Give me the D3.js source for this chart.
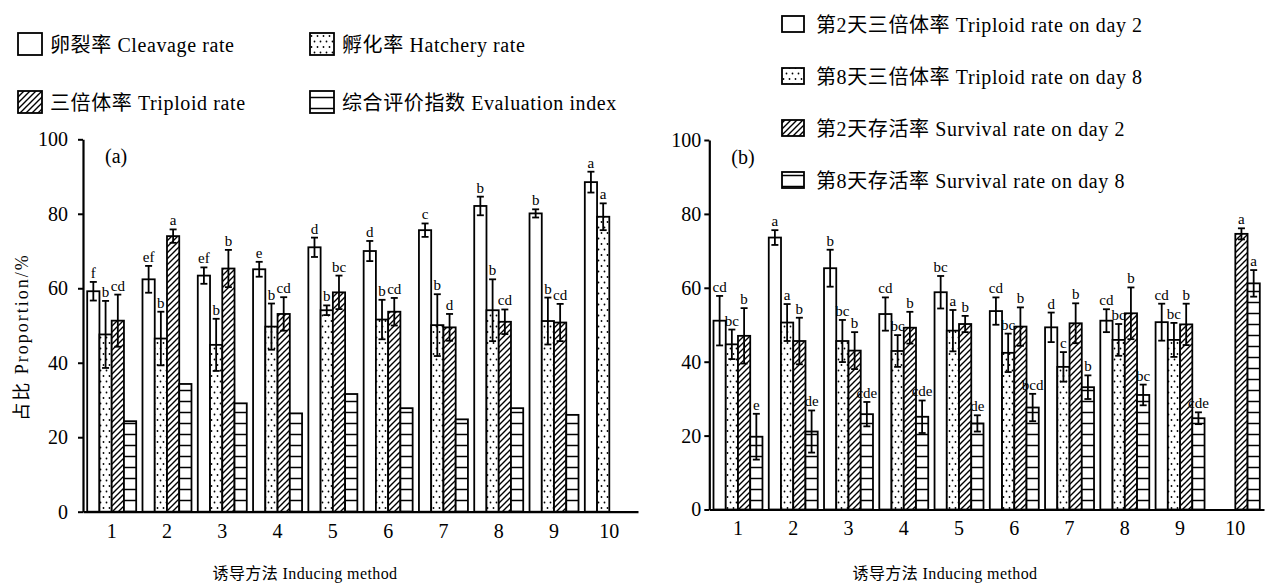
<!DOCTYPE html>
<html>
<head>
<meta charset="utf-8">
<script src="https://cdn.jsdelivr.net/npm/d3@7"></script>
<style>
    body { margin: 0; background: #fff; }
    text { font-family: "Liberation Serif", "Noto Sans CJK SC", serif; fill: #000; }
</style>
</head>
<body>
<div id="chart"></div>
<script>
    // categories (inducing method)
    var categories = ["1", "2", "3", "4", "5", "6", "7", "8", "9", "10"];
    var yTicks = [0, 20, 40, 60, 80, 100];

    // panel (a)
    var cleavage    = [59.2, 62.4, 63.4, 65.1, 71.0, 70.0, 75.6, 82.1, 80.1, 88.5];
    var cleavageErr = [2.5, 3.6, 2.2, 2.0, 2.6, 2.7, 1.8, 2.5, 1.1, 2.8];
    var cleavageSig = ["f", "ef", "ef", "e", "d", "d", "c", "b", "b", "a"];
    var hatchery    = [47.6, 46.5, 44.8, 49.7, 54.1, 51.6, 50.1, 54.1, 51.2, 79.2];
    var hatcheryErr = [9.0, 7.2, 7.0, 6.2, 1.3, 5.3, 8.3, 8.3, 6.3, 3.6];
    var hatcherySig = ["b", "b", "b", "b", "b", "b", "b", "b", "b", "a"];
    var triploid    = [51.3, 74.0, 65.3, 53.1, 58.9, 53.7, 49.5, 51.0, 50.8, null];
    var triploidErr = [7.0, 1.8, 5.0, 4.5, 4.5, 3.7, 3.6, 3.3, 5.0, null];
    var triploidSig = ["cd", "a", "b", "cd", "bc", "cd", "d", "cd", "cd", null];
    var evaluation  = [24.3, 34.3, 29.1, 26.4, 31.6, 27.8, 24.8, 27.8, 26.0, null];

    // panel (b)
    var tri2    = [51.1, 73.6, 65.3, 52.9, 58.8, 53.7, 49.3, 51.1, 50.7, null];
    var tri2Err = [6.7, 2.0, 5.0, 4.5, 4.4, 3.7, 4.0, 3.1, 5.0, null];
    var tri2Sig = ["cd", "a", "b", "cd", "bc", "cd", "d", "cd", "cd", null];
    var tri8    = [44.7, 50.6, 45.6, 42.9, 48.4, 42.4, 38.6, 45.9, 45.9, null];
    var tri8Err = [4.0, 5.0, 5.7, 4.3, 5.6, 5.2, 4.0, 4.3, 4.6, null];
    var tri8Sig = ["bc", "a", "bc", "bc", "a", "bc", "c", "bc", "bc", null];
    var surv2    = [47.0, 45.6, 43.0, 49.2, 50.2, 49.5, 50.4, 53.1, 50.1, 74.6];
    var surv2Err = [7.5, 6.3, 5.0, 4.3, 2.2, 5.2, 5.4, 7.0, 5.6, 1.5];
    var surv2Sig = ["b", "b", "b", "b", "b", "b", "b", "b", "b", "a"];
    var surv8    = [19.7, 21.1, 25.8, 25.1, 23.3, 27.6, 33.1, 31.0, 24.7, 61.2];
    var surv8Err = [6.2, 5.7, 3.3, 4.4, 2.2, 3.7, 3.2, 2.8, 1.6, 3.6];
    var surv8Sig = ["e", "de", "cde", "cde", "de", "bcd", "b", "bc", "cde", "a"];

    var w = 1266;
    var h = 586;

    var svg = d3.select("#chart")
        .append("svg")
        .attr("width", w)
        .attr("height", h);

    // fill patterns
    var defs = svg.append("defs");

    var dots = defs.append("pattern")
        .attr("id", "dots")
        .attr("patternUnits", "userSpaceOnUse")
        .attr("width", 6)
        .attr("height", 11);
    dots.append("rect").attr("width", 6).attr("height", 11).attr("fill", "#fff");
    dots.append("circle").attr("cx", 1.5).attr("cy", 2).attr("r", 0.9).attr("fill", "#000");
    dots.append("circle").attr("cx", 4.5).attr("cy", 7.5).attr("r", 0.9).attr("fill", "#000");

    var hatch = defs.append("pattern")
        .attr("id", "hatch")
        .attr("patternUnits", "userSpaceOnUse")
        .attr("width", 6)
        .attr("height", 6);
    hatch.append("rect").attr("width", 6).attr("height", 6).attr("fill", "#fff");
    hatch.append("path")
        .attr("d", "M0,6 L6,0 M-1.5,1.5 L1.5,-1.5 M4.5,7.5 L7.5,4.5")
        .attr("stroke", "#000")
        .attr("stroke-width", 1.4);

    var hlines = defs.append("pattern")
        .attr("id", "hlines")
        .attr("patternUnits", "userSpaceOnUse")
        .attr("width", 12)
        .attr("height", 11);
    hlines.append("rect").attr("width", 12).attr("height", 11).attr("fill", "#fff");
    hlines.append("line")
        .attr("x1", 0).attr("x2", 12)
        .attr("y1", 5.5).attr("y2", 5.5)
        .attr("stroke", "#000")
        .attr("stroke-width", 1.5);

    var fills = ["#fff", "url(#dots)", "url(#hatch)", "url(#hlines)"];

    function drawPanel(cfg) {
        var x = d3.scaleBand()
            .domain(categories)
            .range([cfg.x0, cfg.x1])
            .paddingInner(0.114)
            .paddingOuter(0.076);

        var xInner = d3.scaleBand()
            .domain([0, 1, 2, 3])
            .range([0, x.bandwidth()]);

        var y = d3.scaleLinear()
            .domain([0, 100])
            .range([cfg.yBottom, cfg.yTop]);

        var g = svg.append("g");

        // bars
        cfg.series.forEach(function(s, si) {
            var rows = categories.map(function(c, i) {
                return { cat: c, v: s.values[i], e: s.err ? s.err[i] : null, sig: s.sig ? s.sig[i] : null };
            }).filter(function(d) { return d.v != null; });

            var bx = function(d) { return x(d.cat) + xInner(si); };
            var cx = function(d) { return bx(d) + xInner.bandwidth() / 2; };

            g.selectAll(".bar" + si)
                .data(rows)
                .enter()
                .append("rect")
                .attr("x", bx)
                .attr("y", function(d) { return y(d.v); })
                .attr("width", xInner.bandwidth())
                .attr("height", function(d) { return y(0) - y(d.v); })
                .attr("fill", fills[si])
                .attr("stroke", "#000")
                .attr("stroke-width", 1.8);

            if (!s.err) return;

            var eb = g.selectAll(".err" + si)
                .data(rows)
                .enter()
                .append("g")
                .attr("stroke", "#000")
                .attr("stroke-width", 1.8);
            eb.append("line")
                .attr("x1", cx).attr("x2", cx)
                .attr("y1", function(d) { return y(d.v - d.e); })
                .attr("y2", function(d) { return y(d.v + d.e); });
            eb.append("line")
                .attr("x1", function(d) { return cx(d) - 3.5; })
                .attr("x2", function(d) { return cx(d) + 3.5; })
                .attr("y1", function(d) { return y(d.v + d.e); })
                .attr("y2", function(d) { return y(d.v + d.e); });
            eb.append("line")
                .attr("x1", function(d) { return cx(d) - 3.5; })
                .attr("x2", function(d) { return cx(d) + 3.5; })
                .attr("y1", function(d) { return y(d.v - d.e); })
                .attr("y2", function(d) { return y(d.v - d.e); });

            g.selectAll(".sig" + si)
                .data(rows)
                .enter()
                .append("text")
                .attr("x", cx)
                .attr("y", function(d) { return y(d.v + d.e) - 4; })
                .attr("text-anchor", "middle")
                .style("font-size", "15px")
                .text(function(d) { return d.sig; });
        });

        // axes
        var xAxis = d3.axisBottom(x).tickSize(0).tickPadding(cfg.xPad);
        var yAxis = d3.axisLeft(y).tickValues(yTicks).tickSize(5).tickSizeOuter(0).tickPadding(cfg.yPad);

        var gx = svg.append("g")
            .attr("transform", "translate(0," + cfg.yBottom + ")")
            .call(xAxis);
        var gy = svg.append("g")
            .attr("transform", "translate(" + cfg.x0 + ",0)")
            .call(yAxis);

        [gx, gy].forEach(function(a) {
            a.select(".domain").attr("stroke-width", 2.2);
            a.selectAll(".tick line").attr("stroke-width", 2);
            a.selectAll("text")
                .style("font-family", "Liberation Serif")
                .style("font-size", "20px");
        });

        // panel tag
        svg.append("text")
            .attr("x", cfg.x0 + 22)
            .attr("y", cfg.yTop + 24)
            .style("font-size", "20px")
            .text(cfg.tag);

        // x title
        svg.append("text")
            .attr("x", cfg.titleX)
            .attr("y", 579)
            .attr("text-anchor", "middle")
            .style("font-size", "16px")
            .style("letter-spacing", "0.4px")
            .text("诱导方法 Inducing method");
    }

    drawPanel({
        x0: 83, x1: 638, yBottom: 511.7, yTop: 139.3,
        xPad: 12, yPad: 10, tag: "(a)", titleX: 305,
        series: [
            { values: cleavage, err: cleavageErr, sig: cleavageSig },
            { values: hatchery, err: hatcheryErr, sig: hatcherySig },
            { values: triploid, err: triploidErr, sig: triploidSig },
            { values: evaluation }
        ]
    });

    drawPanel({
        x0: 709.3, x1: 1264, yBottom: 509.5, yTop: 140,
        xPad: 11, yPad: 3, tag: "(b)", titleX: 945,
        series: [
            { values: tri2, err: tri2Err, sig: tri2Sig },
            { values: tri8, err: tri8Err, sig: tri8Sig },
            { values: surv2, err: surv2Err, sig: surv2Sig },
            { values: surv8, err: surv8Err, sig: surv8Sig }
        ]
    });

    // y title (panel a)
    svg.append("text")
        .attr("transform", "translate(22,337) rotate(-90)")
        .attr("text-anchor", "middle")
        .attr("dominant-baseline", "central")
        .style("font-size", "18px")
        .style("letter-spacing", "2px")
        .text("占比 Proportion/%");

    // legends
    var legendA = [
        { label: "卵裂率 Cleavage rate", fill: fills[0], x: 18, y: 45 },
        { label: "孵化率 Hatchery rate", fill: fills[1], x: 310, y: 45 },
        { label: "三倍体率  Triploid rate", fill: fills[2], x: 18, y: 103 },
        { label: "综合评价指数 Evaluation index", fill: fills[3], x: 310, y: 103 }
    ];
    var legendB = [
        { label: "第2天三倍体率 Triploid rate on day 2", fill: fills[0], x: 782, y: 25 },
        { label: "第8天三倍体率 Triploid rate on day 8", fill: fills[1], x: 782, y: 77 },
        { label: "第2天存活率 Survival rate on day 2", fill: fills[2], x: 782, y: 129 },
        { label: "第8天存活率 Survival rate on day 8", fill: fills[3], x: 782, y: 181 }
    ];

    function drawLegend(items, bw, bh, gap) {
        var lg = svg.append("g")
            .selectAll("g")
            .data(items)
            .enter()
            .append("g")
            .attr("transform", function(d) { return "translate(" + d.x + "," + d.y + ")"; });
        lg.append("rect")
            .attr("x", 0)
            .attr("y", -bh / 2 - 1)
            .attr("width", bw)
            .attr("height", bh)
            .attr("fill", function(d) { return d.fill; })
            .attr("stroke", "#000")
            .attr("stroke-width", 1.8);
        lg.append("text")
            .attr("x", bw + gap)
            .attr("y", 0)
            .attr("dominant-baseline", "central")
            .style("font-size", "20px")
            .style("letter-spacing", "0.6px")
            .text(function(d) { return d.label; });
    }

    drawLegend(legendA, 24, 22, 8);
    drawLegend(legendB, 22, 16, 12);
</script>
</body>
</html>
